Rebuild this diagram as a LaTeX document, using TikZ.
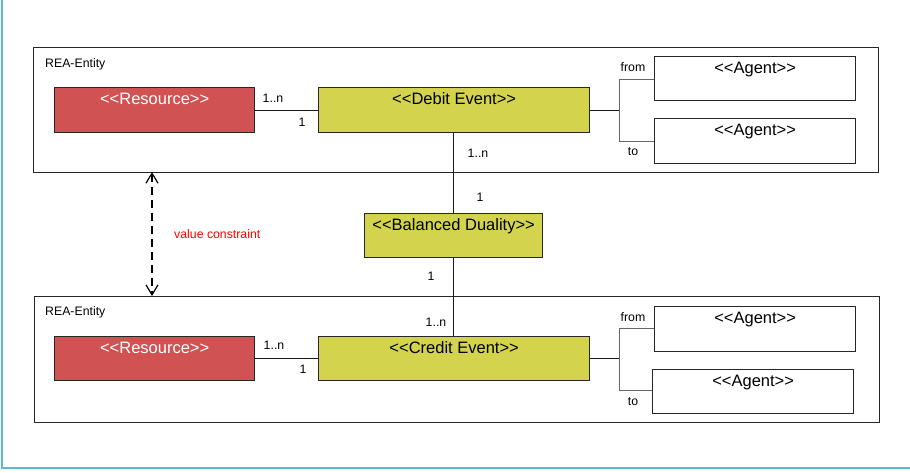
\documentclass[tikz,border=0pt]{standalone}
\usepackage{fontspec}
\setmainfont{Liberation Sans}
\usetikzlibrary{arrows.meta,calc}
\definecolor{resred}{HTML}{D05252}
\definecolor{evyellow}{HTML}{D3D34E}
\definecolor{framecyan}{HTML}{5BB8D6}
\newcommand{\stereo}[1]{{<}{<}#1{>}{>}}
\begin{document}
\begin{tikzpicture}[x=1pt,y=-1pt,
  box/.style={draw=black!85,line width=1.3pt,anchor=north west,inner sep=0pt},
  entity/.style={draw=black!85,line width=1.2pt,anchor=north west,inner sep=0pt},
  title/.style={font=\fontsize{16.5}{18}\selectfont,anchor=north,inner sep=0pt},
  small/.style={font=\fontsize{12.3}{14}\selectfont,inner sep=0pt},
  conn/.style={draw=black!90,line width=0.9pt},
  branch/.style={draw=black!60,line width=0.9pt}]
\useasboundingbox (0,0) rectangle (910,472);
% outer frame (left and bottom edges)
\draw[framecyan,line width=1.5pt] (2,0) -- (2,468) -- (910,468);

% ---- upper REA entity ----
\node[entity,minimum width=845pt,minimum height=125pt] (ent1) at (33,47) {};
\node[small,anchor=west] at (45,64) {REA-Entity};
\node[box,fill=resred,minimum width=200pt,minimum height=45pt] (res1) at (54,87) {};
\node[title,text=white] at ($(res1.north)+(0,6)$) {\stereo{Resource}};
\node[box,fill=evyellow,minimum width=271pt,minimum height=45pt] (deb) at (318,87) {};
\node[title] at ($(deb.north)+(0,5.5)$) {\stereo{Debit Event}};
\node[box,fill=white,minimum width=201pt,minimum height=44pt] (ag1) at (654,56) {};
\node[title] at ($(ag1.north)+(0,5.5)$) {\stereo{Agent}};
\node[box,fill=white,minimum width=201pt,minimum height=45pt] (ag2) at (654,118) {};
\node[title] at ($(ag2.north)+(0,5.5)$) {\stereo{Agent}};

\draw[conn] (res1.east) -- (deb.west);
\node[small] at (273,98) {1..n};
\node[small] at (302,122) {1};
\coordinate (j1) at ($(deb.east)+(29,0)$);
\draw[conn] (deb.east) -- (j1);
\draw[branch] (ag1.west |- 0,79) -| (j1) |- (ag2.west |- 0,141);
\node[small] at (633,67) {from};
\node[small] at (633,152) {to};

% ---- balanced duality ----
\node[box,fill=evyellow,minimum width=178pt,minimum height=44pt] (bal) at (364,213) {};
\node[title] at ($(bal.north)+(0,5)$) {\stereo{Balanced Duality}};
\draw[conn] (deb.south -| bal.north) -- (bal.north);
\node[small] at (478,153) {1..n};
\node[small] at (480,197) {1};

% ---- lower REA entity ----
\node[entity,minimum width=845pt,minimum height=126pt] (ent2) at (34,296) {};
\node[small,anchor=west] at (45,312) {REA-Entity};
\node[box,fill=resred,minimum width=200pt,minimum height=44pt] (res2) at (54,336) {};
\node[title,text=white] at ($(res2.north)+(0,6)$) {\stereo{Resource}};
\node[box,fill=evyellow,minimum width=271pt,minimum height=44pt] (cred) at (318,336) {};
\node[title] at ($(cred.north)+(0,5.5)$) {\stereo{Credit Event}};
\node[box,fill=white,minimum width=201pt,minimum height=45pt] (ag3) at (654,306) {};
\node[title] at ($(ag3.north)+(0,5.5)$) {\stereo{Agent}};
\node[box,fill=white,minimum width=201pt,minimum height=44pt] (ag4) at (652,369) {};
\node[title] at ($(ag4.north)+(0,5.5)$) {\stereo{Agent}};

\draw[conn] (bal.south) -- (bal.south |- cred.north);
\node[small] at (431,276) {1};
\node[small] at (436,322) {1..n};

\draw[conn] (res2.east) -- (cred.west);
\node[small] at (274,345) {1..n};
\node[small] at (303,369) {1};
\coordinate (j2) at ($(cred.east)+(29,0)$);
\draw[conn] (cred.east) -- (j2);
\draw[branch] (ag3.west |- 0,328) -| (j2) |- (ag4.west |- 0,390);
\node[small] at (633,317) {from};
\node[small] at (633,402) {to};

% ---- value constraint between the two entities ----
\coordinate (vc1) at (152,172);
\coordinate (vc2) at (152,296);
\draw[line width=1.2pt,dash pattern=on 8pt off 5pt,
  {Straight Barb[length=10pt,width=12pt,line width=1.2pt]}-{Straight Barb[length=10pt,width=12pt,line width=1.2pt]}]
  (vc1) -- (vc2);
\node[small,text=red,anchor=west] at (174,234) {value constraint};
\end{tikzpicture}
\end{document}
